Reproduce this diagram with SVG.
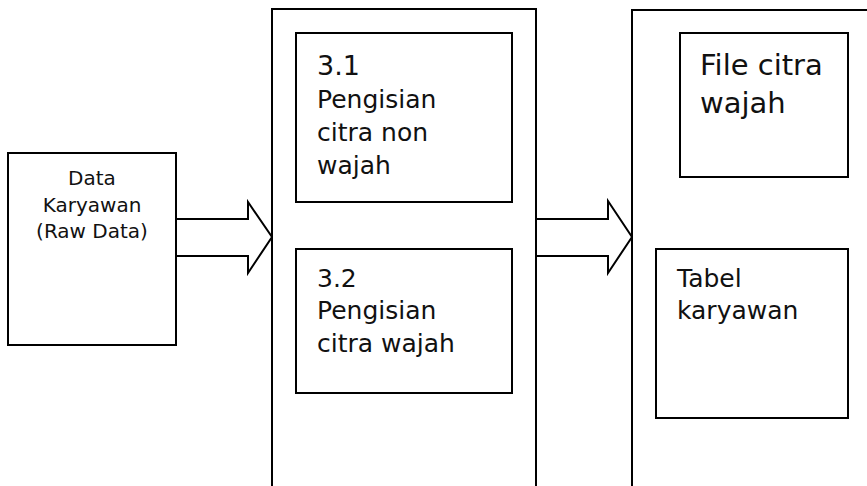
<svg xmlns="http://www.w3.org/2000/svg" width="867" height="486" viewBox="0 0 867 486">
<style>
.b{fill:#fff;stroke:#000;stroke-width:2}
.o{fill:none;stroke:#000;stroke-width:2}
.a{fill:#fff;stroke:#000;stroke-width:2;stroke-linejoin:miter}
text{font-family:"DejaVu Sans","Liberation Sans",sans-serif;fill:#111}
</style>
<rect width="867" height="486" fill="#fff"/>
<g id="data-karyawan">
<rect class="b" x="8" y="153" width="168" height="192"/>
<text x="92" y="185" font-size="20" text-anchor="middle">Data</text>
<text x="92" y="212" font-size="20" text-anchor="middle">Karyawan</text>
<text x="92" y="238" font-size="20" text-anchor="middle">(Raw Data)</text>
</g>
<g id="proses">
<path class="o" d="M272,486 V9 H536 V486"/>
</g>
<g id="proses-3-1">
<rect class="b" x="296" y="33" width="216" height="169"/>
<text x="317" y="75" font-size="27">3.1</text>
<text x="317" y="108" font-size="25">Pengisian</text>
<text x="317" y="141" font-size="25">citra non</text>
<text x="317" y="174" font-size="25">wajah</text>
</g>
<g id="proses-3-2">
<rect class="b" x="296" y="249" width="216" height="144"/>
<text x="317" y="287" font-size="25">3.2</text>
<text x="317" y="319" font-size="25">Pengisian</text>
<text x="317" y="352" font-size="25">citra wajah</text>
</g>
<g id="penyimpanan">
<path class="o" d="M632,486 V10 H867"/>
</g>
<g id="file-citra-wajah">
<rect class="b" x="680" y="33" width="168" height="144"/>
<text x="700" y="75" font-size="29">File citra</text>
<text x="700" y="113" font-size="29">wajah</text>
</g>
<g id="tabel-karyawan">
<rect class="b" x="656" y="249" width="192" height="169"/>
<text x="677" y="287" font-size="25">Tabel</text>
<text x="677" y="319" font-size="25">karyawan</text>
</g>
<g id="connectors">
<polygon class="a" points="176,219 248,219 248,202 272,237 248,273 248,256 176,256"/>
<polygon class="a" points="536,219 608,219 608,201 632,237 608,273 608,256 536,256"/>
</g>
</svg>
